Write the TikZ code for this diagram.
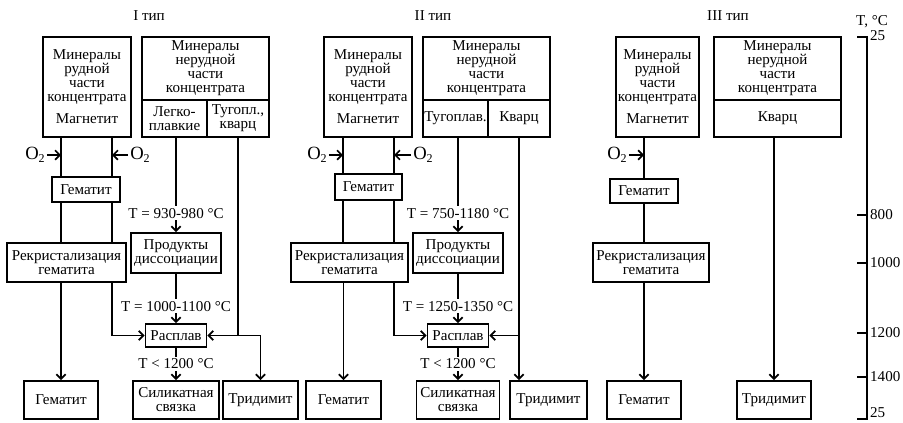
\documentclass[tikz,border=0pt]{standalone}
\usepackage{fontspec}
\setmainfont{Liberation Serif}
\usetikzlibrary{arrows.meta,positioning,calc}

\tikzset{
  blok/.style={draw, fill=white, align=center},
  wh/.style 2 args={minimum width=#1*0.75pt, minimum height=#2*0.75pt},
  tmetka/.style={fill=white, inner sep=1.5pt},
  kislorod/.style={font=\fontsize{14}{14}\selectfont, inner sep=1pt}
}

\begin{document}
\begin{tikzpicture}[
      x=0.75pt, y=-0.75pt,
      line width=1.3pt,
      >={Straight Barb[length=3.5pt,width=7pt]},
      every node/.style={font=\fontsize{11.3}{10.5}\selectfont, inner sep=1pt}
  ]
      \useasboundingbox (0,0) rectangle (903,422);

      % Заголовки типов
      \node (tip1) at (149,16) {I тип};
      \node (tip2) at (433,16) {II тип};
      \node (tip3) at (728,16) {III тип};

      % ---------- I тип ----------
      \node[blok, wh={88}{100}] (ore1) at (87,87) {Минералы\\рудной\\части\\концентрата\\[6pt]Магнетит};
      \node[blok, wh={127}{63}] (top1) at (205.5,68.5) {Минералы\\нерудной\\части\\концентрата};
      \node[blok, wh={65}{37}] (easy1) at (174.5,118.5) {Легко-\\плавкие};
      \node[blok, wh={62}{37}] (refr1) at (238,118.5) {Тугопл.,\\кварц};
      \node[blok, wh={68}{25}] (hem1) at (86,189.5) {Гематит};
      \node[blok, wh={119}{39}] (recr1) at (66.5,262.5) {Рекристализация\\гематита};
      \node[blok, wh={90}{40}] (prod1) at (176,253) {Продукты\\диссоциации};
      \node[blok, wh={61}{23}] (melt1) at (176,335.5) {Расплав};
      \node[blok, wh={74}{38}] (fin1) at (61,400) {Гематит};
      \node[blok, wh={86}{38}] (sil1) at (176,400) {Силикатная\\связка};
      \node[blok, wh={75}{38}] (trid1) at (260.5,400) {Тридимит};

      \node[kislorod] (oxa1) at (35,155) {O\raisebox{-0.35ex}{\small 2}};
      \node[kislorod] (oxb1) at (140,155) {O\raisebox{-0.35ex}{\small 2}};

      \draw (61,0 |- ore1.south) -- (61,0 |- hem1.north);
      \draw (112,0 |- ore1.south) -- (112,0 |- hem1.north);
      \draw (61,0 |- hem1.south) -- (61,0 |- recr1.north);
      \draw (112,0 |- hem1.south) -- (112,0 |- recr1.north);
      \draw[->] (oxa1.east) -- (61,0 |- oxa1.east);
      \draw[->] (oxb1.west) -- (112,0 |- oxb1.west);
      \draw[->] (fin1.north |- recr1.south) -- (fin1.north);
      \draw[->] (112,0 |- recr1.south) |- (melt1.west);

      \draw[->] (prod1.north |- easy1.south) -- node[tmetka, pos=0.8] {T = 930-980 °C} (prod1.north);
      \draw[->] (prod1) -- node[tmetka, pos=0.66] {T = 1000-1100 °C} (melt1);
      \draw[->] (melt1) -- node[tmetka] {T < 1200 °C} (sil1);
      \draw[->] (refr1.south) |- (melt1.east);
      \draw[->] (refr1.south |- melt1.east) -| (trid1.north);

      % ---------- II тип ----------
      \node[blok, wh={88}{100}] (ore2) at (368,87) {Минералы\\рудной\\части\\концентрата\\[6pt]Магнетит};
      \node[blok, wh={127}{63}] (top2) at (486.5,68.5) {Минералы\\нерудной\\части\\концентрата};
      \node[blok, wh={65}{37}] (refr2) at (455.5,118.5) {Тугоплав.};
      \node[blok, wh={62}{37}] (quartz2) at (519,118.5) {Кварц};
      \node[blok, wh={67}{26}] (hem2) at (368.5,187) {Гематит};
      \node[blok, wh={117}{39}] (recr2) at (349.5,262.5) {Рекристализация\\гематита};
      \node[blok, wh={90}{40}] (prod2) at (458,253) {Продукты\\диссоциации};
      \node[blok, wh={61}{23}] (melt2) at (458,335.5) {Расплав};
      \node[blok, wh={75}{38}] (fin2) at (343.5,400) {Гематит};
      \node[blok, wh={83}{38}] (sil2) at (458,400) {Силикатная\\связка};
      \node[blok, wh={77}{38}] (trid2) at (548.5,400) {Тридимит};

      \node[kislorod] (oxa2) at (317,155) {O\raisebox{-0.35ex}{\small 2}};
      \node[kislorod] (oxb2) at (423,155) {O\raisebox{-0.35ex}{\small 2}};

      \draw (343,0 |- ore2.south) -- (343,0 |- hem2.north);
      \draw (394,0 |- ore2.south) -- (394,0 |- hem2.north);
      \draw (343,0 |- hem2.south) -- (343,0 |- recr2.north);
      \draw (394,0 |- hem2.south) -- (394,0 |- recr2.north);
      \draw[->] (oxa2.east) -- (343,0 |- oxa2.east);
      \draw[->] (oxb2.west) -- (394,0 |- oxb2.west);
      \draw[->] (fin2.north |- recr2.south) -- (fin2.north);
      \draw[->] (394,0 |- recr2.south) |- (melt2.west);

      \draw[->] (prod2.north |- refr2.south) -- node[tmetka, pos=0.8] {T = 750-1180 °C} (prod2.north);
      \draw[->] (prod2) -- node[tmetka, pos=0.66] {T = 1250-1350 °C} (melt2);
      \draw[->] (melt2) -- node[tmetka] {T < 1200 °C} (sil2);
      \draw[->] (quartz2.south) -- (quartz2.south |- trid2.north);
      \draw[->] (quartz2.south |- melt2.east) -- (melt2.east);

      % ---------- III тип ----------
      \node[blok, wh={83}{100}] (ore3) at (657.5,87) {Минералы\\рудной\\части\\концентрата\\[6pt]Магнетит};
      \node[blok, wh={127}{63}] (top3) at (777.5,68.5) {Минералы\\нерудной\\части\\концентрата};
      \node[blok, wh={127}{37}] (quartz3) at (777.5,118.5) {Кварц};
      \node[blok, wh={68}{24}] (hem3) at (644,191) {Гематит};
      \node[blok, wh={116}{39}] (recr3) at (651,262.5) {Рекристализация\\гематита};
      \node[blok, wh={74}{38}] (fin3) at (644,400) {Гематит};
      \node[blok, wh={74}{38}] (trid3) at (774,400) {Тридимит};

      \node[kislorod] (oxa3) at (617,155) {O\raisebox{-0.35ex}{\small 2}};

      \draw (fin3.north |- ore3.south) -- (fin3.north |- hem3.north);
      \draw (fin3.north |- hem3.south) -- (fin3.north |- recr3.north);
      \draw[->] (oxa3.east) -- (fin3.north |- oxa3.east);
      \draw[->] (fin3.north |- recr3.south) -- (fin3.north);
      \draw[->] (trid3.north |- quartz3.south) -- (trid3.north);

      % Шкала температур
      \node (tos) at (872,22) {T, °C};
      \draw (857,37) -- (867,37) -- (867,419) -- (857,419);
      \foreach \yy in {215,263,333,377}
          \draw (857,\yy) -- (867,\yy);
      \foreach \t/\yy in {25/36, 800/215, 1000/263, 1200/333, 1400/377, 25/413}
          \node[anchor=west] (t\yy) at (868,\yy) {\t};

  \end{tikzpicture}
\end{document}
